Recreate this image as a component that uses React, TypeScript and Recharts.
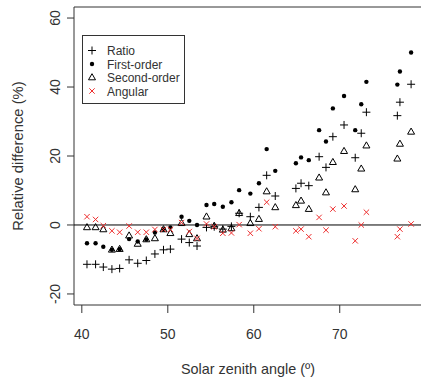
import React from "react";
import {
	ScatterChart,
	Scatter,
	XAxis,
	YAxis,
	ReferenceLine,
	ReferenceArea,
	Legend,
	Label,
} from "recharts";

const angles = [
	40.6, 41.6, 42.5, 43.5, 44.4, 45.5, 46.5, 47.5, 48.5, 49.5, 50.3, 51.6, 52.5,
	53.4, 54.5, 55.4, 56.4, 57.4, 58.3, 59.6, 60.6, 61.5, 62.5, 64.9, 65.5, 66.4,
	67.6, 68.4, 69.2, 70.5, 71.8, 72.5, 73.1, 76.7, 77.0, 78.3,
];
const ratio = [
	-11.4, -11.4, -12.2, -12.8, -12.6, -10.1, -11.1, -10.3, -8.4, -7.2, -7.0, -4.1,
	-5.1, -6.1, -0.7, -0.5, -1.2, -0.4, 3.4, 2.4, 5.1, 14.4, 8.4, 10.6, 12.1, 11.4,
	19.8, 16.7, 25.6, 29.0, 19.5, 26.6, 32.7, 31.7, 35.6, 40.8,
];
const firstOrder = [
	-5.3, -5.3, -6.3, -7.2, -7.0, -4.1, -4.8, -4.2, -2.2, -1.3, -0.7, 2.4, 1.2, 0,
	5.8, 6.1, 5.3, 6.6, 10.1, 9.1, 12.1, 22.0, 15.7, 17.9, 19.6, 18.8, 27.5, 24.2,
	33.8, 37.4, 27.5, 35.0, 41.5, 40.7, 44.5, 50.0,
];
const secondOrder = [
	-0.7, -0.7, -1.3, -7.2, -7.0, -3.1, -5.5, -4.2, -3.9, -1.3, -2.4, 0.5, -2.7,
	-3.9, 2.4, -0.3, -1.4, -1.0, 3.4, 0.5, 1.7, 9.7, 5.1, 5.7, 7.0, 4.6, 13.7, 9.4,
	18.2, 21.4, 10.3, 16.3, 23.0, 19.2, 23.5, 27.0,
];
const angular = [
	2.4, 1.6, -0.2, -1.7, -2.1, -0.3, -2.1, -2.1, -1.3, -1.3, -1.3, 0.7, -1.9,
	-3.9, 0.3, -0.5, -2.4, -2.3, 0.1, -2.4, -1.1, 6.6, -0.5, -1.7, -1.2, -3.4, 2.2,
	-1.5, 4.6, 5.5, -4.6, 0, 3.7, -3.4, -1.2, 0.3,
];
const xTicks = [40, 50, 60, 70];
const yTicks = [-20, 0, 20, 40, 60];
const legendLabels = ["Ratio", "First-order", "Second-order", "Angular"];

const xDomain = [39.09, 79.8];
const yDomain = [-23.2, 63.2];
const FONT = "'Liberation Sans', Arial, sans-serif";
const TEXT = "#333";
const RED = "#ee3030";

const toPoints = (vals: number[]) => angles.map((x, i) => ({ x, y: vals[i] }));

const Plus = ({ cx, cy }: any) => (
	<path d={`M${cx - 4},${cy}H${cx + 4}M${cx},${cy - 4}V${cy + 4}`} stroke="#000" strokeWidth={1} />
);
const Dot = ({ cx, cy }: any) => <circle cx={cx} cy={cy} r={2.2} fill="#000" />;
const Tri = ({ cx, cy }: any) => (
	<polygon
		points={`${cx},${cy - 3.8} ${cx - 3.5},${cy + 2.3} ${cx + 3.5},${cy + 2.3}`}
		fill="none"
		stroke="#000"
		strokeWidth={1}
	/>
);
const Cross = ({ cx, cy }: any) => (
	<path
		d={`M${cx - 2.7},${cy - 2.7}L${cx + 2.7},${cy + 2.7}M${cx - 2.7},${cy + 2.7}L${cx + 2.7},${cy - 2.7}`}
		stroke={RED}
		strokeWidth={1}
	/>
);
const shapes = [Plus, Dot, Tri, Cross];

const YTick = ({ y, payload }: any) => (
	<text
		x={60}
		y={y}
		transform={`rotate(-90, 60, ${y})`}
		textAnchor="middle"
		fontSize={14}
		fontFamily={FONT}
		fill={TEXT}
	>
		{payload.value}
	</text>
);

const XTick = ({ x, payload }: any) => (
	<text x={x} y={339} textAnchor="middle" fontSize={14} fontFamily={FONT} fill={TEXT}>
		{payload.value}
	</text>
);

const LegendBox = () => (
	<svg width={104} height={70} style={{ display: "block" }}>
		<rect x={0.5} y={0.5} width={102} height={68} fill="#fff" stroke="#333" />
		{legendLabels.map((label, i) => {
			const cy = 15.5 + i * 13.5;
			const Shape = shapes[i];
			return (
				<g key={label}>
					<Shape cx={10} cy={cy} />
					<text x={25} y={cy + 4.5} fontSize={12} fontFamily={FONT} fill={TEXT}>
						{label}
					</text>
				</g>
			);
		})}
	</svg>
);

const App: React.FC = () => {
	return (
		<div style={{ position: "absolute", left: 0, top: 0, width: 421, height: 378, overflow: "hidden", background: "#fff" }}>
			<ScatterChart width={424} height={378} margin={{ top: 7, right: 0, bottom: 0, left: 0 }}>
				<XAxis
					type="number"
					dataKey="x"
					domain={xDomain}
					ticks={xTicks}
					allowDataOverflow
					axisLine={false}
					tickSize={8}
					tickLine={{ stroke: "#333" }}
					tick={<XTick />}
					height={73}
					label={
						<Label
							content={() => (
								<text x={248} y={374} textAnchor="middle" fontSize={14.4} fontFamily={FONT} fill={TEXT}>
									Solar zenith angle (º)
								</text>
							)}
						/>
					}
				/>
				<YAxis
					type="number"
					dataKey="y"
					domain={yDomain}
					ticks={yTicks}
					allowDataOverflow
					axisLine={false}
					tickSize={7}
					tickLine={{ stroke: "#333" }}
					tick={<YTick />}
					width={74}
					label={
						<Label
							content={() => (
								<text
									x={23}
									y={156}
									transform="rotate(-90, 23, 156)"
									textAnchor="middle"
									fontSize={14.8}
									fontFamily={FONT}
									fill={TEXT}
								>
									Relative difference (%)
								</text>
							)}
						/>
					}
				/>
				<ReferenceArea
					x1={xDomain[0]}
					x2={xDomain[1]}
					y1={yDomain[0]}
					y2={yDomain[1]}
					fill="none"
					stroke="#333"
					strokeWidth={1}
					fillOpacity={0}
				/>
				<ReferenceLine y={0} stroke="#000" strokeWidth={1} />
				<Scatter name="Ratio" data={toPoints(ratio)} shape={Plus} isAnimationActive={false} />
				<Scatter name="First-order" data={toPoints(firstOrder)} shape={Dot} isAnimationActive={false} />
				<Scatter name="Second-order" data={toPoints(secondOrder)} shape={Tri} isAnimationActive={false} />
				<Scatter name="Angular" data={toPoints(angular)} shape={Cross} isAnimationActive={false} />
				<Legend
					layout="vertical"
					align="center"
					verticalAlign="middle"
					content={() => <LegendBox />}
					wrapperStyle={{ position: "absolute", left: 82, top: 35, width: 104, height: 70 }}
				/>
			</ScatterChart>
		</div>
	);
};

export default App;
